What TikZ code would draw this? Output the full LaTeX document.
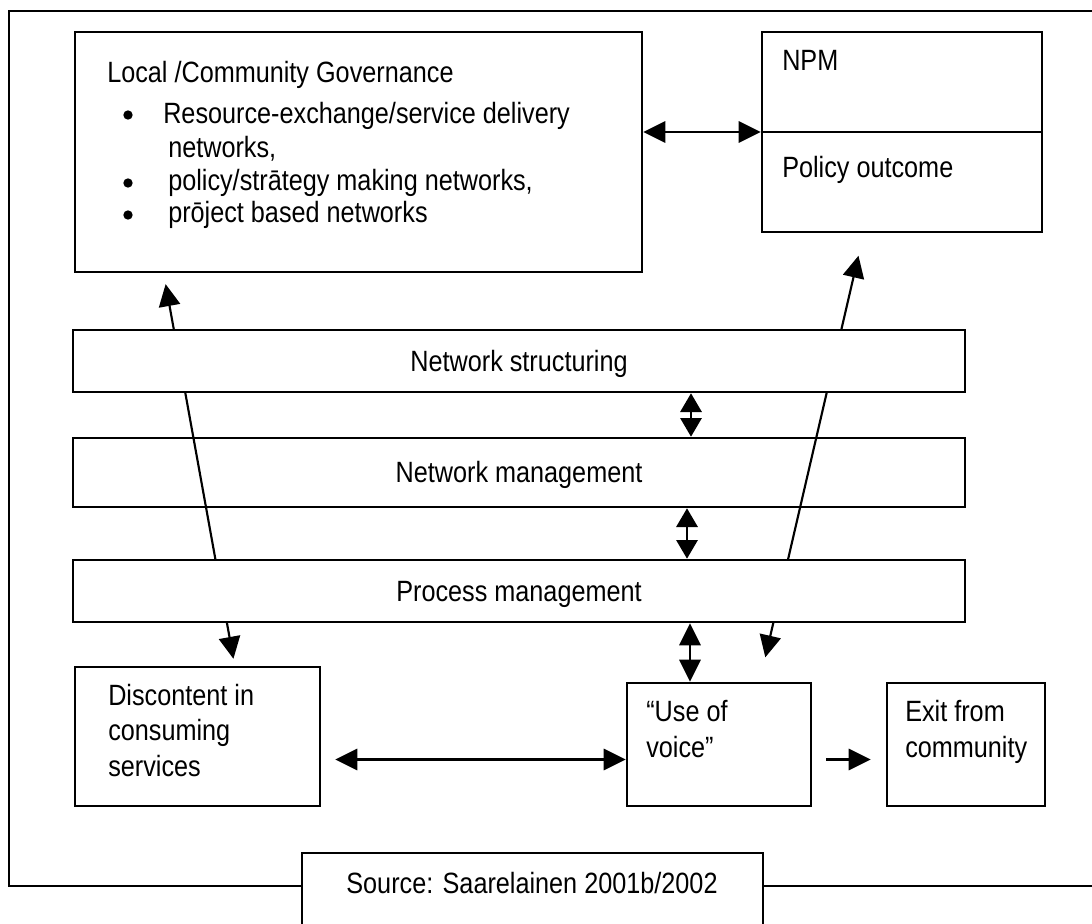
\documentclass[tikz,border=0pt]{standalone}
\usepackage{fontspec}
\setmainfont{Liberation Sans}
\usetikzlibrary{arrows.meta,fit,calc}
% slightly condensed text, as set in the figure
\newcommand{\nar}[1]{\scalebox{0.86}[1]{#1}}
\begin{document}
\begin{tikzpicture}[x=0.75pt,y=-0.75pt,
  box/.style={draw, line width=2pt, inner sep=0pt, fill=white},
  txt/.style={anchor=base west, inner sep=0pt, font=\fontsize{22}{26}\selectfont},
  ctxt/.style={anchor=base, inner sep=0pt, font=\fontsize{22}{26}\selectfont},
  dot/.style={circle, fill, inner sep=0pt, minimum size=7pt},
  link/.style={line width=1.6pt},
  twoway/.style={link, {Triangle[length=16.5pt,width=16pt]}-{Triangle[length=16.5pt,width=16pt]}},
  shortway/.style={link, {Triangle[length=14pt,width=16pt]}-{Triangle[length=14pt,width=16pt]}},
  oneway/.style={link, -{Triangle[length=16.5pt,width=16pt]}},
]
\useasboundingbox (0,0) rectangle (1092,924);
\clip (0,0) rectangle (1092,924);

% outer frame
\draw[line width=2pt] (9,11) rectangle (1100,886);

% boxes
\node[box, fit={(75,32)(642,272)}] (local) {};
\node[box, fit={(762,32)(1042,232)}] (npm) {};
\node[box, fit={(75,667)(320,806)}] (disc) {};
\node[box, fit={(627,683)(811,806)}] (voice) {};
\node[box, fit={(887,683)(1045,806)}] (exit) {};
\node[box, fit={(73,438)(965,507)}] (nm) {};

% long diagonal links (partly hidden behind the outer bands)
\coordinate (lb) at ($(disc.north west)+(161,0)$);
\coordinate (lt) at ($(local.south west)+(90,0)$);
\draw[twoway, shorten <=5.25pt, shorten >=8.25pt] (lb) -- (lt);
\coordinate (rb) at ($(voice.north west)+(134,0)$);
\coordinate (rt) at ($(npm.south west)+(103,0)$);
\draw[twoway, shorten <=18.75pt, shorten >=17.25pt] (rb) -- (rt);

% outer bands
\node[box, fit={(73,330)(965,392)}] (ns) {};
\node[box, fit={(73,560)(965,622)}] (pm) {};

% short links
\coordinate (a1) at ($(ns.south)+(172,0)$);
\draw[shortway] (a1) -- (a1 |- nm.north);
\coordinate (a2) at ($(nm.south)+(168,0)$);
\draw[shortway] (a2) -- (a2 |- pm.north);
\coordinate (a3) at ($(pm.south)+(171,0)$);
\draw[twoway] (a3) -- (a3 |- voice.north);
\draw[twoway] (npm.west -| local.east) -- (npm.west);
\draw[line width=1.6pt] (npm.west) -- (npm.east);
\coordinate (vw) at ($(voice.west)+(0,15)$);
\draw[twoway, shorten >=10.5pt] (vw) -- (vw -| disc.east);
\coordinate (ve) at ($(voice.east)+(0,15)$);
\draw[oneway, shorten <=10.5pt, shorten >=11.25pt] (ve) -- (ve -| exit.west);

% source box
\node[box, fit={(302,853)(763,940)}] (src) {};

% texts
\node[txt] (tLocal) at (107,83) {\nar{Local /Community Governance}};
\node[dot] (b1) at (128,115) {};
\node[txt] (tRes) at (163,123) {\nar{Resource-exchange/service delivery}};
\node[txt] (tNet) at (168,157) {\nar{networks,}};
\node[dot] (b2) at (128,183) {};
\node[txt] (tPol) at (168,190) {\nar{policy/strātegy making networks,}};
\node[dot] (b3) at (128,215) {};
\node[txt] (tProj) at (168,222) {\nar{prōject based networks}};
\node[txt] (tNPM) at (782,70) {\nar{NPM}};
\node[txt] (tOut) at (782,177) {\nar{Policy outcome}};
\node[ctxt] (tNS) at ($(ns.center)+(0,10)$) {\nar{Network structuring}};
\node[ctxt] (tNM) at ($(nm.center)+(0,10)$) {\nar{Network management}};
\node[ctxt] (tPM) at ($(pm.center)+(0,10)$) {\nar{Process management}};
\node[txt] (tD1) at (108,705) {\nar{Discontent in}};
\node[txt] (tD2) at (108,740) {\nar{consuming}};
\node[txt] (tD3) at (108,776) {\nar{services}};
\node[txt] (tV1) at (646,721) {\nar{“Use of}};
\node[txt] (tV2) at (646,757) {\nar{voice”}};
\node[txt] (tE1) at (905,721) {\nar{Exit from}};
\node[txt] (tE2) at (905,757) {\nar{community}};
\node[ctxt] (tSrc) at (532,893) {\nar{Source: Saarelainen 2001b/2002}};
\end{tikzpicture}
\end{document}
